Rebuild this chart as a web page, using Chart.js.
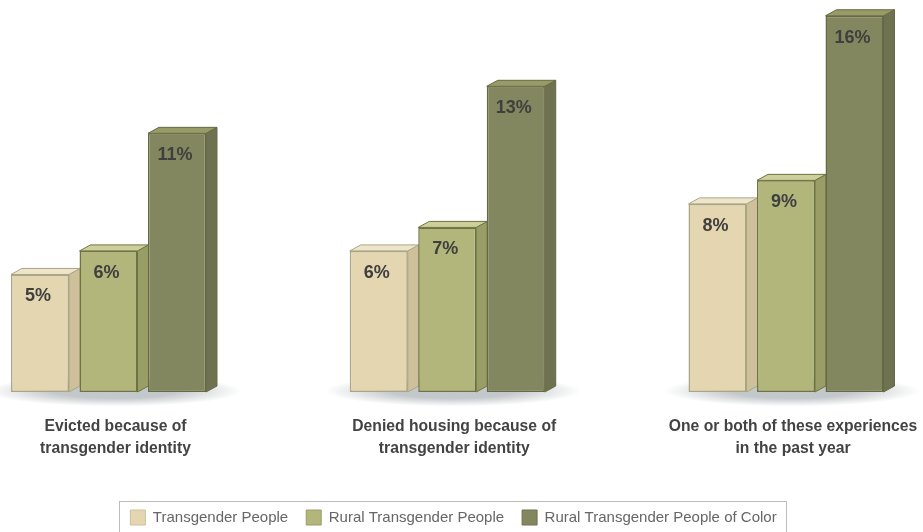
<!DOCTYPE html>
<html>
<head>
<meta charset="utf-8">
<style>
	html, body { margin: 0; padding: 0; background: #fff; overflow: hidden; }
	canvas { display: block; }
</style>
<script src="https://cdn.jsdelivr.net/npm/chart.js@4"></script>
</head>
<body>
<canvas id="grafico" width="923" height="532"></canvas>
<script>
const categorias = [
	['Evicted because of', 'transgender identity'],
	['Denied housing because of', 'transgender identity'],
	['One or both of these experiences', 'in the past year'],
];
const transgenderPeople = [5, 6, 8];
const ruralTransgender = [6, 7, 9];
const ruralDeColor = [11, 13, 16];

const fuente = '"Liberation Sans", sans-serif';

// colores de cada serie: frente, lado, techo, borde
const tonos = [
	{ frente: '#e3d6b0', lado: '#cdc09b', techo: '#eee6cc', borde: '#aaa583' },
	{ frente: '#b2b67b', lado: '#999d66', techo: '#cdd09a', borde: '#6f7341' },
	{ frente: '#83875f', lado: '#6f7250', techo: '#989b66', borde: '#666a42' },
];

const fondoX = 11; // profundidad hacia la derecha
const fondoY = 6; // profundidad hacia arriba

// Sombra, lados y techo de cada barra
const barras3d = {
	id: 'barras3d',
	// La leyenda ocupa todo el ancho en una fila, sin el padding del gráfico
	afterLayout(chart) {
		const ley = chart.legend;
		ley.maxWidth = 923;
		ley.fit();
		ley.left = -8;
		ley.right = 915;
		ley.top = 492;
		ley.bottom = 543;
	},
	beforeDatasetsDraw(chart) {
		const c = chart.ctx;
		const medio = chart.getDatasetMeta(1).data;

		medio.forEach((bar) => {
			c.save();
			c.translate(bar.x + 6, bar.base - 1);
			c.scale(1, 0.12);
			const g = c.createRadialGradient(0, 0, 60, 0, 0, 128);
			g.addColorStop(0, 'rgba(135,145,150,0.5)');
			g.addColorStop(1, 'rgba(135,145,150,0)');
			c.fillStyle = g;
			c.beginPath();
			c.arc(0, 0, 128, 0, Math.PI * 2);
			c.fill();
			c.restore();
		});

		chart.data.datasets.forEach((ds, i) => {
			const t = tonos[i];
			chart.getDatasetMeta(i).data.forEach((bar) => {
				const izq = bar.x - bar.width / 2;
				const der = bar.x + bar.width / 2;
				c.lineWidth = 1;
				c.strokeStyle = t.borde;

				c.fillStyle = t.lado;
				c.beginPath();
				c.moveTo(der, bar.y);
				c.lineTo(der + fondoX, bar.y - fondoY);
				c.lineTo(der + fondoX, bar.base - fondoY);
				c.lineTo(der, bar.base);
				c.closePath();
				c.fill();
				c.stroke();

				c.fillStyle = t.techo;
				c.beginPath();
				c.moveTo(izq, bar.y);
				c.lineTo(izq + fondoX, bar.y - fondoY);
				c.lineTo(der + fondoX, bar.y - fondoY);
				c.lineTo(der, bar.y);
				c.closePath();
				c.fill();
				c.stroke();
			});
		});
	},
	afterDatasetsDraw(chart) {
		const c = chart.ctx;
		c.save();
		c.font = 'bold 18px ' + fuente;
		c.fillStyle = '#3f3f3f';
		c.textAlign = 'center';
		c.textBaseline = 'middle';
		chart.data.datasets.forEach((ds, i) => {
			chart.getDatasetMeta(i).data.forEach((bar, j) => {
				c.fillText(ds.data[j] + '%', bar.x - 2, bar.y + 22);
			});
		});
		c.restore();
	},
	// Marco de la leyenda, se corta contra el borde inferior
	afterDraw(chart) {
		const c = chart.ctx;
		c.save();
		c.strokeStyle = '#bdbdbd';
		c.lineWidth = 1;
		c.strokeRect(119.5, 501.5, 667, 60);
		c.restore();
	},
};

new Chart(document.getElementById('grafico').getContext('2d'), {
	type: 'bar',
	data: {
		labels: categorias,
		datasets: [
			{ label: 'Transgender People', data: transgenderPeople },
			{ label: 'Rural Transgender People', data: ruralTransgender },
			{ label: 'Rural Transgender People of Color', data: ruralDeColor },
		].map((ds, i) => ({
			...ds,
			backgroundColor: tonos[i].frente,
			borderColor: tonos[i].borde,
			borderWidth: 1.5,
			borderSkipped: false,
			barPercentage: 0.8467,
			categoryPercentage: 0.6066,
			clip: false,
		})),
	},
	options: {
		responsive: false,
		animation: false,
		layout: { padding: { left: 108.5, right: 137, top: 4, bottom: 0 } },
		plugins: {
			tooltip: { enabled: false },
			legend: {
				position: 'bottom',
				labels: {
					boxWidth: 15,
					boxHeight: 15,
					padding: 18,
					color: '#666666',
					font: { family: fuente, size: 15 },
					generateLabels(chart) {
						const items = Chart.defaults.plugins.legend.labels.generateLabels(chart);
						items.forEach((item, i) => {
							item.strokeStyle = tonos[i].lado;
							item.lineWidth = 1;
						});
						return items;
					},
				},
			},
		},
		scales: {
			x: {
				offset: false,
				grid: { display: false },
				border: { display: false },
				ticks: {
					autoSkip: false,
					maxRotation: 0,
					padding: 16,
					labelOffset: 7,
					color: '#434343',
					font: { family: fuente, size: 15.7, weight: 'bold', lineHeight: 1.4 },
				},
				afterFit(escala) {
					escala.height = 64;
					escala.paddingLeft = 0;
					escala.paddingRight = 0;
				},
			},
			y: { display: false, min: 0, max: 16.5 },
		},
	},
	plugins: [barras3d],
});
</script>
</body>
</html>
